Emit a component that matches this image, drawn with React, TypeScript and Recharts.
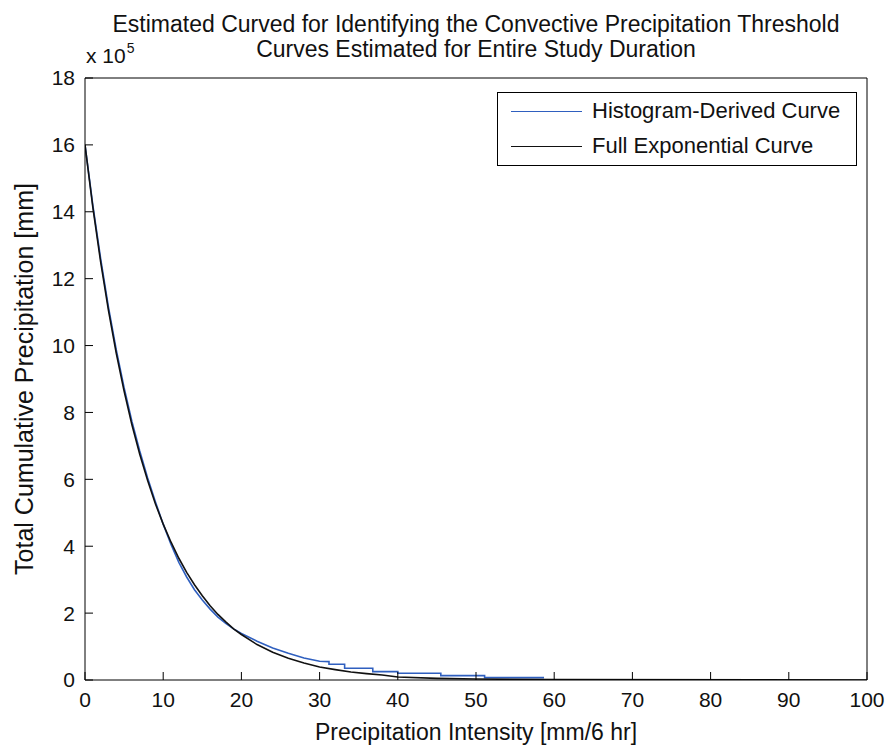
import React from "react";
import { LineChart, Line, XAxis, YAxis, Legend } from "recharts";

// values in units of 10^5 mm
const histX = [0, 1, 2, 3, 4, 5, 6, 7, 8, 9, 10, 11, 12, 13, 14, 15, 16, 17, 18, 19, 20, 22, 24, 26, 28, 30, 31.2, 31.2, 33.2, 33.2, 36.8, 36.8, 40, 40, 45.5, 45.5, 51.1, 51.1, 58.7];
const histY = [16.0, 14.2, 12.6, 11.15, 9.87, 8.74, 7.73, 6.85, 6.05, 5.33, 4.66, 4.05, 3.52, 3.08, 2.7, 2.39, 2.12, 1.88, 1.69, 1.53, 1.39, 1.16, 0.96, 0.8, 0.66, 0.56, 0.55, 0.47, 0.47, 0.35, 0.35, 0.25, 0.25, 0.2, 0.2, 0.13, 0.13, 0.07, 0.07];

const expX = [0, 1, 2, 3, 4, 5, 6, 7, 8, 9, 10, 11, 12, 13, 14, 15, 16, 17, 18, 19, 20, 22, 24, 26, 28, 30, 32, 34, 36, 38, 40, 45, 50, 60, 100];
const expY = [16.0, 14.14, 12.5, 11.05, 9.77, 8.64, 7.63, 6.75, 5.97, 5.27, 4.66, 4.12, 3.64, 3.22, 2.85, 2.52, 2.22, 1.96, 1.74, 1.53, 1.36, 1.06, 0.83, 0.65, 0.51, 0.39, 0.31, 0.24, 0.19, 0.15, 0.09, 0.05, 0.03, 0.01, 0];

const xTicks = [0, 10, 20, 30, 40, 50, 60, 70, 80, 90, 100];
const yTicks = [0, 2, 4, 6, 8, 10, 12, 14, 16, 18];

const seriesNames = ["Histogram-Derived Curve", "Full Exponential Curve"];
const seriesColors = ["#2f5fbf", "#111111"];

const titleLines = [
  "Estimated Curved for Identifying the Convective Precipitation Threshold",
  "Curves Estimated for Entire Study Duration",
];
const xLabel = "Precipitation Intensity [mm/6 hr]";
const yLabel = "Total Cumulative Precipitation [mm]";

const histData = histX.map((x, i) => ({ x, y: histY[i] }));
const expData = expX.map((x, i) => ({ x, y: expY[i] }));

const FONT = "'Liberation Sans', Arial, Helvetica, sans-serif";
const tickStyle = { fontSize: 21, fill: "#111", fontFamily: FONT };

const LegendBox = (props: any) => {
  const payload = props.payload || [];
  const ordered = seriesNames
    .map((n) => payload.find((p: any) => p.value === n))
    .filter(Boolean);
  return (
    <div
      style={{
        border: "1px solid #000",
        background: "#fff",
        width: 358,
        height: 72,
        fontFamily: FONT,
        fontSize: 22,
        color: "#111",
        position: "relative",
      }}
    >
      {ordered.map((p: any, i: number) => (
        <div
          key={i}
          style={{ position: "absolute", left: 0, top: 18 + i * 35 - 14, height: 28, display: "flex", alignItems: "center" }}
        >
          <div style={{ width: 71, height: 0, borderTop: `1.6px solid ${p.color}`, marginLeft: 13, marginRight: 10 }} />
          <span style={{ whiteSpace: "nowrap" }}>{p.value}</span>
        </div>
      ))}
    </div>
  );
};

export default function App() {
  return (
    <div style={{ position: "absolute", left: 0, top: 0, width: 890, height: 748, background: "#fff", fontFamily: FONT }}>
      <LineChart width={890} height={748} margin={{ top: 0, right: 0, bottom: 0, left: 0 }}>
        <XAxis
          xAxisId="bottom"
          dataKey="x"
          type="number"
          domain={[0, 100]}
          ticks={xTicks}
          orientation="bottom"
          height={68}
          tickSize={-8}
          tickMargin={20}
          tick={tickStyle}
          stroke="#000"
          allowDataOverflow
          label={{ value: xLabel, position: "center", dy: 18, style: { fontSize: 23, fill: "#111", fontFamily: FONT } }}
        />
        <XAxis
          xAxisId="top"
          dataKey="x"
          type="number"
          domain={[0, 100]}
          ticks={xTicks}
          orientation="top"
          height={78}
          tickSize={-8}
          tick={false}
          stroke="#000"
          allowDataOverflow
        />
        <YAxis
          yAxisId="left"
          type="number"
          domain={[0, 18]}
          ticks={yTicks}
          orientation="left"
          width={85}
          tickSize={-8}
          tickMargin={18}
          tick={tickStyle}
          stroke="#000"
          allowDataOverflow
          label={{ value: yLabel, angle: -90, position: "center", dx: -18, style: { fontSize: 25, fill: "#111", fontFamily: FONT, textAnchor: "middle" } }}
        />
        <YAxis
          yAxisId="right"
          type="number"
          domain={[0, 18]}
          ticks={yTicks}
          orientation="right"
          width={23}
          tickSize={-8}
          tick={false}
          stroke="#000"
          allowDataOverflow
        />
        <Legend
          layout="horizontal"
          verticalAlign="middle"
          align="center"
          content={<LegendBox />}
          wrapperStyle={{ position: "absolute", left: 497, top: 92, width: 360, height: 74 }}
        />
        <Line
          xAxisId="bottom"
          yAxisId="left"
          data={histData}
          dataKey="y"
          name={seriesNames[0]}
          stroke={seriesColors[0]}
          strokeWidth={1.6}
          dot={false}
          type="linear"
          isAnimationActive={false}
        />
        <Line
          xAxisId="bottom"
          yAxisId="left"
          data={expData}
          dataKey="y"
          name={seriesNames[1]}
          stroke={seriesColors[1]}
          strokeWidth={1.6}
          dot={false}
          type="linear"
          isAnimationActive={false}
        />
      </LineChart>
      <div style={{ position: "absolute", left: 85, top: 12, width: 782, textAlign: "center", fontSize: 23, lineHeight: "25px", color: "#111", whiteSpace: "nowrap" }}>
        {titleLines.map((t, i) => (
          <div key={i}>{t}</div>
        ))}
      </div>
      <div style={{ position: "absolute", left: 86, top: 44, fontSize: 21, lineHeight: "24px", color: "#111", whiteSpace: "nowrap" }}>
        x 10<span style={{ fontSize: 14, position: "relative", top: -10, marginLeft: 1 }}>5</span>
      </div>
    </div>
  );
}
